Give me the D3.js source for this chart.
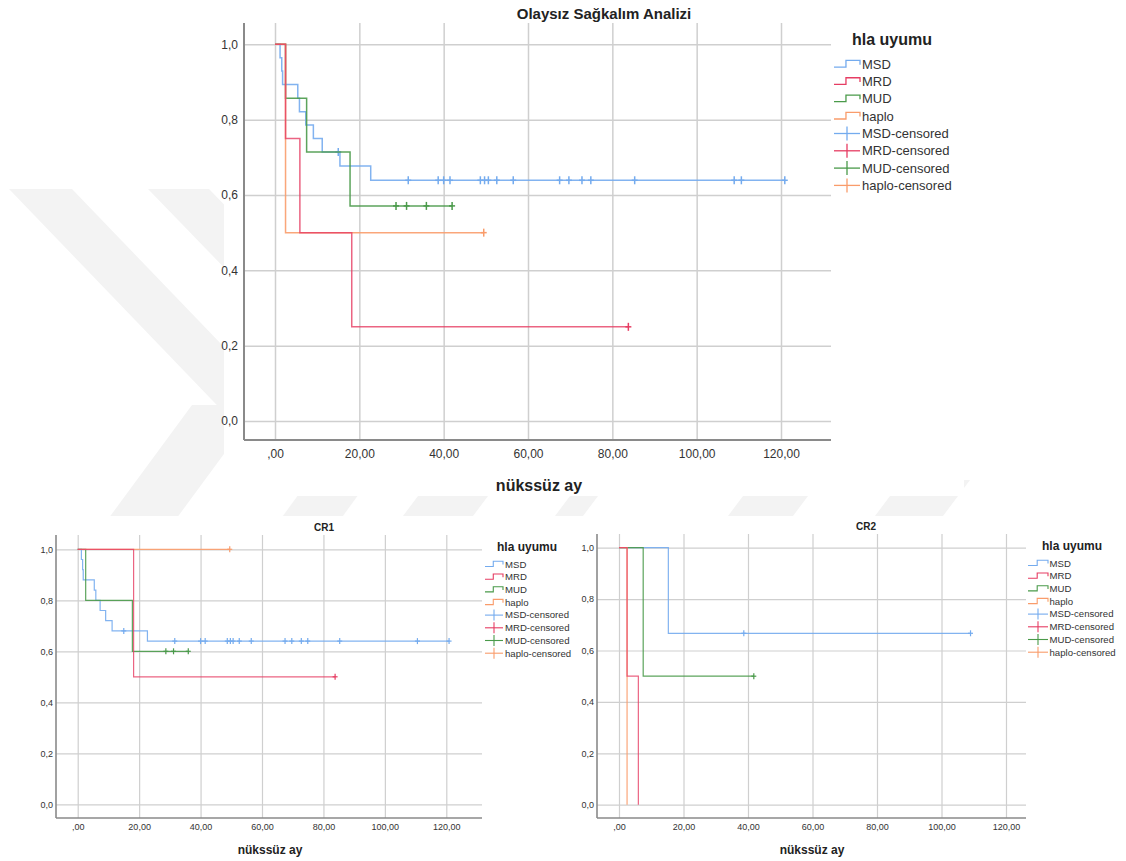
<!DOCTYPE html>
<html><head><meta charset="utf-8">
<script src="https://cdn.jsdelivr.net/npm/d3@7"></script>
<style>
body{margin:0;background:#fff}
svg{display:block}
text{font-family:"Liberation Sans",Arial,sans-serif}
</style>
</head><body><svg id="c" width="1126" height="861"></svg>
<script>
// ---------- data ----------
const groups = ["MSD","MRD","MUD","haplo"];
const colors = {MSD:"#74abee", MRD:"#e63d63", MUD:"#4a9a4a", haplo:"#f99c6b"};
const legendLabels = ["MSD","MRD","MUD","haplo","MSD-censored","MRD-censored","MUD-censored","haplo-censored"];
const xTicks = [0,20,40,60,80,100,120];
const xTickLabels = [",00","20,00","40,00","60,00","80,00","100,00","120,00"];
const yTicks = [0,0.2,0.4,0.6,0.8,1.0];
const yTickLabels = ["0,0","0,2","0,4","0,6","0,8","1,0"];

// Overall (Olaysız Sağkalım Analizi)
const allMSD_t = [0,1.2,1.6,1.8,5.4,5.8,7.3,9.1,11.2,15.4,22.7];
const allMSD_s = [1,0.964,0.929,0.893,0.857,0.821,0.786,0.750,0.714,0.677,0.639];
const allMSD_end = 120.9;
const allMSD_cens = [15.0,31.6,38.7,40.0,41.5,48.7,49.7,50.6,52.6,56.5,67.5,69.7,72.8,74.9,85.3,108.9,110.6,120.9];
const allMRD_t = [0,2.5,5.9,18.2];
const allMRD_s = [1,0.75,0.5,0.25];
const allMRD_end = 83.8;
const allMRD_cens = [83.8];
const allMUD_t = [0,2.5,7.5,17.8];
const allMUD_s = [1,0.857,0.714,0.571];
const allMUD_end = 42.0;
const allMUD_cens = [28.7,31.2,35.9,42.0];
const allHaplo_t = [0,2.5];
const allHaplo_s = [1,0.5];
const allHaplo_end = 49.5;
const allHaplo_cens = [49.5];

// CR1
const cr1MSD_t = [0,1.2,1.6,1.8,5.4,5.9,7.3,9.1,11.2,22.7];
const cr1MSD_s = [1,0.96,0.92,0.88,0.84,0.80,0.76,0.72,0.68,0.64];
const cr1MSD_end = 120.9;
const cr1MSD_cens = [15.0,31.6,40.0,41.5,48.7,49.7,50.6,52.6,56.5,67.5,69.7,72.8,74.9,85.3,110.6,120.9];
const cr1MRD_t = [0,18.2];
const cr1MRD_s = [1,0.5];
const cr1MRD_end = 83.8;
const cr1MRD_cens = [83.8];
const cr1MUD_t = [0,2.6,17.8];
const cr1MUD_s = [1,0.8,0.6];
const cr1MUD_end = 36.0;
const cr1MUD_cens = [28.7,31.2,36.0];
const cr1Haplo_t = [0];
const cr1Haplo_s = [1];
const cr1Haplo_end = 49.5;
const cr1Haplo_cens = [49.5];

// CR2
const cr2MSD_t = [0,15.3];
const cr2MSD_s = [1,0.667];
const cr2MSD_end = 109.0;
const cr2MSD_cens = [38.7,109.0];
const cr2MRD_t = [0,2.5,6.0];
const cr2MRD_s = [1,0.5,0];
const cr2MRD_end = 6.0;
const cr2MRD_cens = [];
const cr2MUD_t = [0,7.5];
const cr2MUD_s = [1,0.5];
const cr2MUD_end = 41.8;
const cr2MUD_cens = [41.8];
const cr2Haplo_t = [0,2.5];
const cr2Haplo_s = [1,0];
const cr2Haplo_end = 2.5;
const cr2Haplo_cens = [];

// ---------- drawing ----------
const svg = d3.select("#c");

// faint background watermark
const wm = svg.append("g").attr("fill","#f3f3f3");
const wmShapes = [
  [[9,189],[72,189],[300,426],[237,426]],
  [[148,189],[209,189],[300,283],[239,283]],
  [[100,530],[168,530],[260,405],[192,405]],
  [[280,520],[340,520],[380,465],[320,465]],
  [[400,520],[470,520],[500,480],[430,480]],
  [[552,520],[580,520],[610,480],[582,480]],
  [[725,520],[790,520],[820,480],[755,480]],
  [[872,520],[940,520],[970,480],[902,480]]
];
wmShapes.forEach(p=>wm.append("path").attr("d","M"+p.map(q=>q.join(",")).join("L")+"Z"));
// chart backgrounds
svg.append("rect").attr("x",224).attr("y",0).attr("width",740).attr("height",496).attr("fill","#fff");
svg.append("rect").attr("x",0).attr("y",516).attr("width",1126).attr("height",345).attr("fill","#fff");

function panel(cfg, series){
  const g = svg.append("g");
  const x = d3.scaleLinear().domain([0,120]).range([cfg.x0,cfg.x120]);
  const y = d3.scaleLinear().domain([0,1]).range([cfg.y0,cfg.y1]);

  // grid lines
  g.append("g").attr("transform",`translate(0,${cfg.top})`)
    .call(d3.axisBottom(x).tickValues(xTicks).tickSize(cfg.bottom-cfg.top).tickFormat(""))
    .call(s=>s.select(".domain").remove())
    .call(s=>s.selectAll("line").attr("stroke","#cfcfcf").attr("stroke-width",cfg.gw));
  g.append("g").attr("transform",`translate(${cfg.left},0)`)
    .call(d3.axisRight(y).tickValues(yTicks).tickSize(cfg.right-cfg.left).tickFormat(""))
    .call(s=>s.select(".domain").remove())
    .call(s=>s.selectAll("line").attr("stroke","#cfcfcf").attr("stroke-width",cfg.gw));

  // tick labels
  g.append("g").attr("transform",`translate(0,${cfg.bottom})`)
    .call(d3.axisBottom(x).tickValues(xTicks).tickSize(0).tickPadding(cfg.xpad).tickFormat((d,i)=>xTickLabels[i]))
    .call(s=>s.select(".domain").remove())
    .call(s=>s.selectAll("text").attr("fill","#333").style("font-size",cfg.tfs+"px").style("font-family","Liberation Sans, Arial, sans-serif"));
  g.append("g").attr("transform",`translate(${cfg.left},0)`)
    .call(d3.axisLeft(y).tickValues(yTicks).tickSize(0).tickPadding(cfg.ypad).tickFormat((d,i)=>yTickLabels[i]))
    .call(s=>s.select(".domain").remove())
    .call(s=>s.selectAll("text").attr("fill","#333").style("font-size",cfg.tfs+"px").style("font-family","Liberation Sans, Arial, sans-serif"));

  // axis lines
  g.append("line").attr("x1",cfg.left).attr("x2",cfg.left).attr("y1",cfg.top).attr("y2",cfg.bottom)
    .attr("stroke","#8a8a8a").attr("stroke-width",cfg.aw);
  g.append("line").attr("x1",cfg.left).attr("x2",cfg.right).attr("y1",cfg.bottom).attr("y2",cfg.bottom)
    .attr("stroke","#8a8a8a").attr("stroke-width",cfg.aw);

  // curves (drawn MSD, MUD, haplo, MRD)
  const order = ["MSD","MUD","haplo","MRD"];
  const line = d3.line().x(d=>x(d[0])).y(d=>y(d[1])).curve(d3.curveStepAfter);
  order.forEach(k=>{
    const s = series[k];
    const pts = s.t.map((t,i)=>[t,s.s[i]]);
    pts.push([s.end, s.s[s.s.length-1]]);
    g.append("path").attr("d",line(pts)).attr("fill","none")
      .attr("stroke",colors[k]).attr("stroke-width",cfg.lw).attr("stroke-opacity",k==="MRD"?0.8:0.9);
    s.c.forEach(ct=>{
      const idx = d3.bisectRight(s.t, ct)-1;
      const v = s.s[idx];
      g.append("line").attr("x1",x(ct)).attr("x2",x(ct)).attr("y1",y(v)-cfg.ch).attr("y2",y(v)+cfg.ch)
        .attr("stroke",colors[k]).attr("stroke-width",cfg.lw);
      g.append("line").attr("x1",x(ct)-cfg.cw).attr("x2",x(ct)+cfg.cw).attr("y1",y(v)).attr("y2",y(v))
        .attr("stroke",colors[k]).attr("stroke-width",cfg.lw);
    });
  });

  // titles
  if(cfg.title) g.append("text").attr("x",cfg.titleX).attr("y",cfg.titleY).attr("text-anchor","middle")
    .attr("font-weight","bold").attr("font-size",cfg.titleFs).attr("fill","#222").text(cfg.title);
  g.append("text").attr("x",cfg.xtX).attr("y",cfg.xtY).attr("text-anchor","middle")
    .attr("font-weight","bold").attr("font-size",cfg.xtFs).attr("fill","#222").text("nükssüz ay");

  // legend
  const L = cfg.leg;
  g.append("text").attr("x",L.tx).attr("y",L.ty).attr("font-weight","bold").attr("font-size",L.tfs)
    .attr("fill","#222").text("hla uyumu");
  legendLabels.forEach((lab,i)=>{
    const k = groups[i%4];
    const cy = L.y0 + i*L.dy;
    const w = L.x1-L.x0;
    if(i<4){
      g.append("path").attr("d",`M${L.x0},${cy+L.h*0.4}H${L.x0+w*0.46}V${cy-L.h*0.55}H${L.x1}V${cy+L.h*0.05}`)
        .attr("fill","none").attr("stroke",colors[k]).attr("stroke-width",L.lw);
    } else {
      g.append("line").attr("x1",L.x0).attr("x2",L.x1).attr("y1",cy).attr("y2",cy).attr("stroke",colors[k]).attr("stroke-width",L.lw);
      g.append("line").attr("x1",(L.x0+L.x1)/2).attr("x2",(L.x0+L.x1)/2).attr("y1",cy-L.h).attr("y2",cy+L.h).attr("stroke",colors[k]).attr("stroke-width",L.lw);
    }
    g.append("text").attr("x",L.textX).attr("y",cy).attr("dy","0.35em").attr("font-size",L.fs).attr("fill","#333").text(lab);
  });
}

const S = (t,s,end,c)=>({t,s,end,c});

panel({left:244,right:831,top:23,bottom:440,x0:275,x120:781,y0:421,y1:44.3,
  gw:1.5,aw:2,lw:1.5,ch:4,cw:3,tfs:12,xpad:9.7,ypad:6,
  title:"Olaysız Sağkalım Analizi",titleX:604,titleY:19,titleFs:15,
  xtX:539,xtY:491,xtFs:16,
  leg:{tx:852,ty:45,tfs:16,x0:834,x1:860,textX:862,y0:64.3,dy:17.3,fs:13,h:7,lw:1.3}},
  {MSD:S(allMSD_t,allMSD_s,allMSD_end,allMSD_cens),
   MRD:S(allMRD_t,allMRD_s,allMRD_end,allMRD_cens),
   MUD:S(allMUD_t,allMUD_s,allMUD_end,allMUD_cens),
   haplo:S(allHaplo_t,allHaplo_s,allHaplo_end,allHaplo_cens)});

panel({left:56,right:482,top:535,bottom:818,x0:77.7,x120:446.3,y0:804.3,y1:549.3,
  gw:1.2,aw:1.6,lw:1.2,ch:3,cw:2.5,tfs:9,xpad:5.8,ypad:3,
  title:"CR1",titleX:324,titleY:531,titleFs:10,
  xtX:270,xtY:854,xtFs:12,
  leg:{tx:497,ty:551,tfs:12,x0:485,x1:503,textX:505,y0:564.3,dy:12.7,fs:9.6,h:5.5,lw:1.1}},
  {MSD:S(cr1MSD_t,cr1MSD_s,cr1MSD_end,cr1MSD_cens),
   MRD:S(cr1MRD_t,cr1MRD_s,cr1MRD_end,cr1MRD_cens),
   MUD:S(cr1MUD_t,cr1MUD_s,cr1MUD_end,cr1MUD_cens),
   haplo:S(cr1Haplo_t,cr1Haplo_s,cr1Haplo_end,cr1Haplo_cens)});

panel({left:597,right:1026,top:534,bottom:818,x0:619,x120:1006,y0:804.7,y1:547.7,
  gw:1.2,aw:1.6,lw:1.2,ch:3,cw:2.5,tfs:9,xpad:5.8,ypad:3,
  title:"CR2",titleX:866,titleY:530,titleFs:10,
  xtX:812,xtY:854,xtFs:12,
  leg:{tx:1042,ty:550,tfs:12,x0:1028,x1:1048,textX:1049.5,y0:563.3,dy:12.7,fs:9.6,h:5.5,lw:1.1}},
  {MSD:S(cr2MSD_t,cr2MSD_s,cr2MSD_end,cr2MSD_cens),
   MRD:S(cr2MRD_t,cr2MRD_s,cr2MRD_end,cr2MRD_cens),
   MUD:S(cr2MUD_t,cr2MUD_s,cr2MUD_end,cr2MUD_cens),
   haplo:S(cr2Haplo_t,cr2Haplo_s,cr2Haplo_end,cr2Haplo_cens)});
</script>
</body></html>
